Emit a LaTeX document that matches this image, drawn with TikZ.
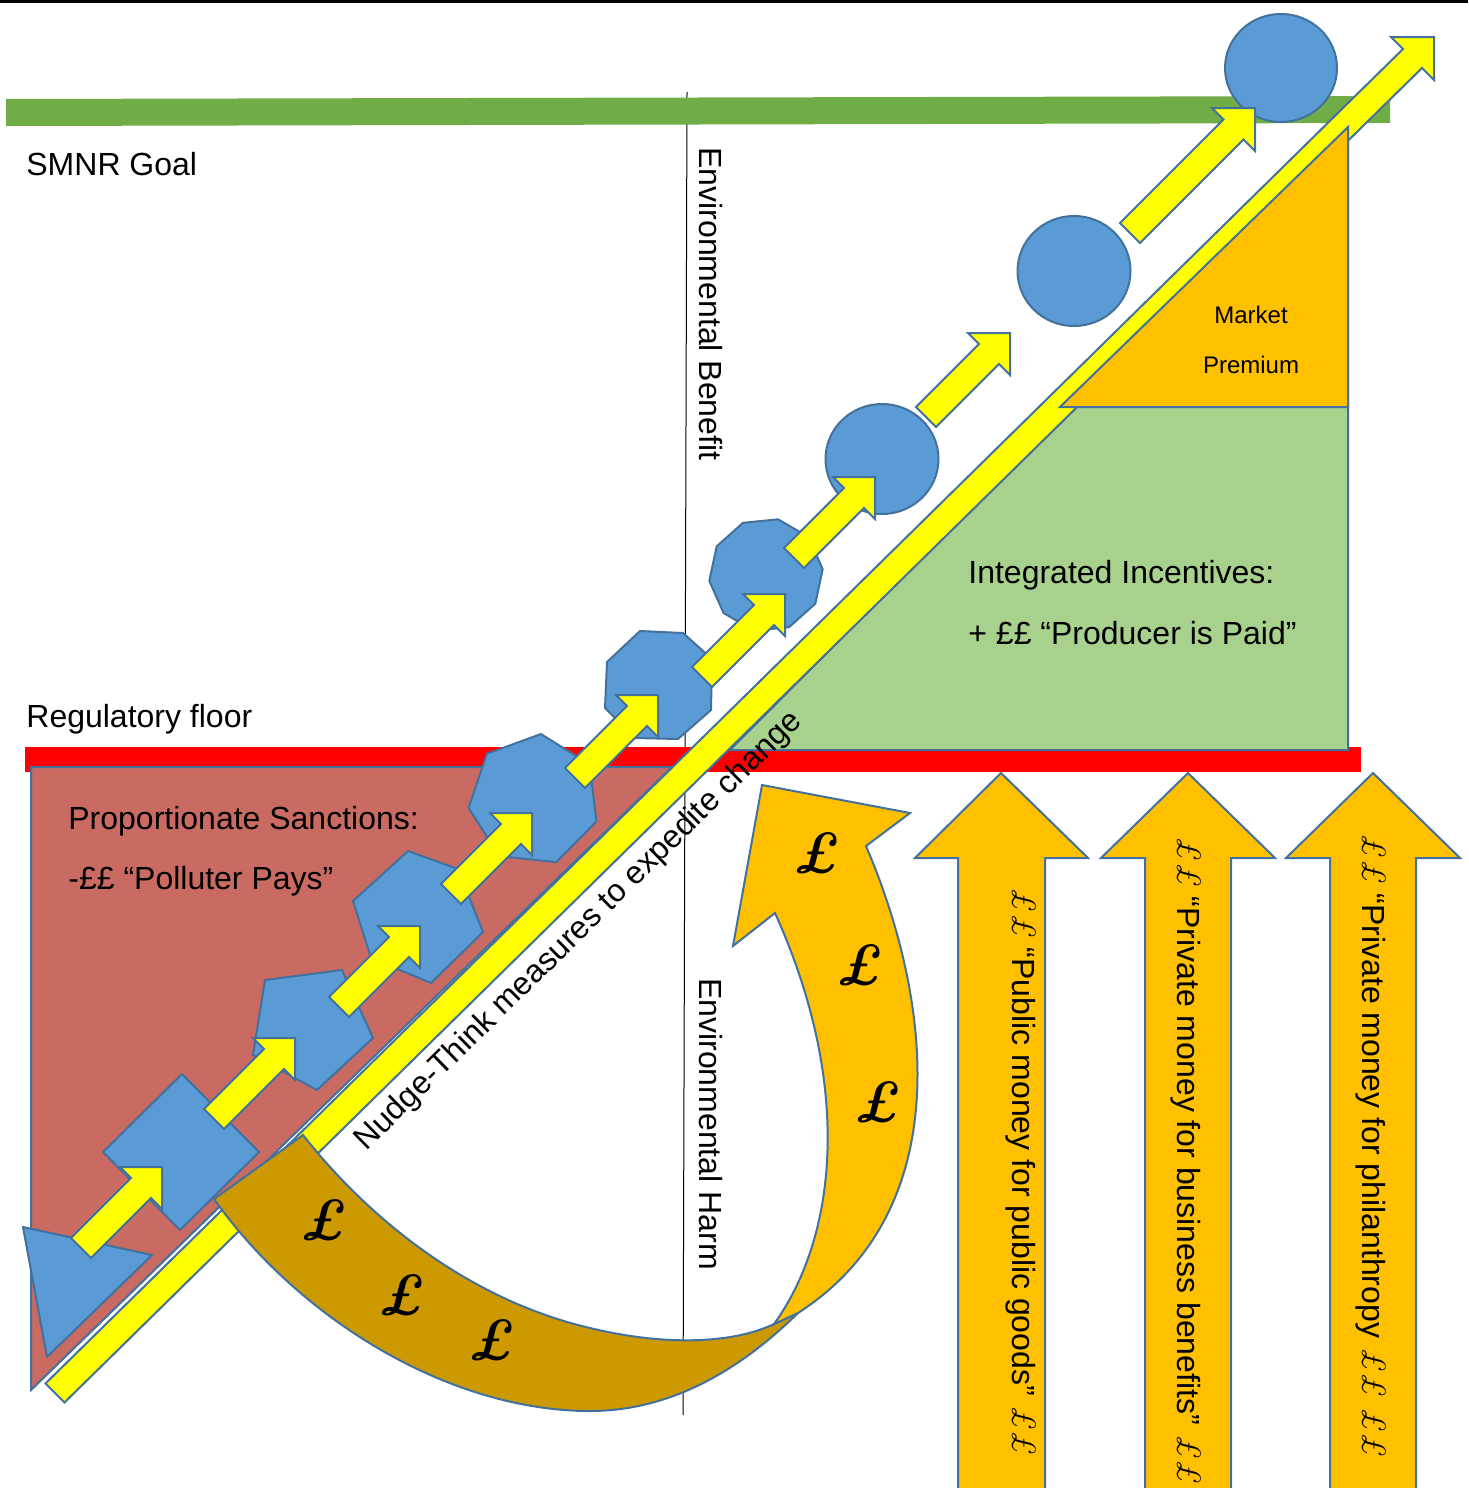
\documentclass[tikz,border=0pt]{standalone}
\usepackage{fontspec}
\setsansfont{Liberation Sans}
\renewcommand\familydefault{\sfdefault}
\definecolor{sbl}{HTML}{41719C}
\definecolor{bfill}{HTML}{5B9BD5}
\definecolor{gbar}{HTML}{70AD47}
\definecolor{gtri}{HTML}{A9D18E}
\definecolor{otri}{HTML}{FFC000}
\definecolor{ptri}{HTML}{C96B63}
\definecolor{brn}{HTML}{CC9900}
\definecolor{ylw}{HTML}{FFFF00}
\newcommand\pd{{\rmfamily\itshape\fontsize{17}{17}\selectfont £}}
\newcommand\bw{10}
\newcommand\blockarrow[5]{%
  \filldraw[yarr] ({#1-\bw},{#2-\bw}) -- ({#3-#5/2-\bw},{#4+#5/2-\bw}) -- ({#3-#5},{#4}) -- (#3,#4) -- (#3,{#4+#5}) -- ({#3-#5/2+\bw},{#4+#5/2+\bw}) -- ({#1+\bw},{#2+\bw}) -- cycle;}
\tikzset{
  lbl/.style={font=\fontsize{16}{19}\selectfont, inner sep=0pt},
  smalllbl/.style={font=\fontsize{12}{14}\selectfont, inner sep=0pt},
  pnd/.style={font=\fontsize{29}{30}\selectfont\rmfamily\bfseries\itshape, inner sep=0pt},
  shp/.style={fill=bfill, draw=sbl, line width=1pt, line join=round},
  yarr/.style={fill=ylw, draw=sbl, line width=1pt, line join=miter},
  tri/.style={draw=sbl, line width=1pt, line join=miter},
}
\begin{document}
\begin{tikzpicture}[x=0.5pt,y=-0.5pt]
\useasboundingbox (0,0) rectangle (1468,1488);
\clip (0,0) rectangle (1468,1488);
% top rule
\draw[line width=1.5pt] (0,1.5) -- (1468,1.5);
% axis line
\draw[line width=0.5pt] (687,92) -- (683,1415);
% goal bar
\fill[gbar] (6,99) -- (1390,96) -- (1390,123) -- (6,126) -- cycle;
% regulatory floor bar
\fill[red] (25,747) rectangle (1361,772);
% sanctions triangle
\filldraw[tri, fill=ptri] (31,767) -- (672,767) -- (31,1390) -- cycle;
% incentives triangle
\filldraw[tri, fill=gtri] (730,750) -- (1348,750) -- (1348,130) -- cycle;
% main arrow
\renewcommand\bw{9.5}
\blockarrow{55}{1393}{1434}{37}{43}
\renewcommand\bw{10}
% premium triangle
\filldraw[tri, fill=otri] (1060,407) -- (1348,407) -- (1348,127) -- cycle;
% step shapes
\filldraw[shp] (23,1227) -- (152,1255) -- (47,1357) -- cycle;
\filldraw[shp] (182,1074) -- (259,1152) -- (180,1230) -- (103,1152) -- cycle;
\filldraw[shp] (265,980) -- (342,970) -- (373,1038) -- (317,1090) -- (253,1055) -- cycle;
\filldraw[shp] (408,851) -- (458,869) -- (483,932) -- (431,983) -- (371,958) -- (353,901) -- cycle;
\filldraw[shp] (541,734) -- (589.6,764.4) -- (596.4,821.4) -- (556.2,862.1) -- (499.3,856.2) -- (468.5,807.9) -- (487,753.7) -- cycle;
\filldraw[shp] (640,631) -- (683,633) -- (712,659) -- (711,710) -- (678,739) -- (635,738) -- (605,708) -- (607,662) -- cycle;
\filldraw[shp] (778,519.3) -- (808.5,537) -- (822.7,569.2) -- (815.3,603.7) -- (789,627.2) -- (754,630.7) -- (723.5,613) -- (709.3,580.8) -- (716.7,546.3) -- (743,522.8) -- cycle;
\filldraw[shp] (882,459) ellipse [x radius=56.5, y radius=55];
\filldraw[shp] (1074,271) ellipse [x radius=56.5, y radius=55];
\filldraw[shp] (1281,68) ellipse [x radius=56, y radius=54];
% step arrows
\blockarrow{81}{1248}{162}{1167}{42}
\blockarrow{214}{1119}{295}{1038}{42}
\blockarrow{339}{1007}{420}{926}{42}
\blockarrow{451}{894}{532}{813}{42}
\blockarrow{575}{778}{658}{695}{42}
\blockarrow{702}{677}{785}{594}{42}
\blockarrow{794}{558}{875}{477}{42}
\blockarrow{926}{417}{1010}{333}{42}
\blockarrow{1130}{233}{1255}{108}{43}
% curved money arrow
\filldraw[tri, fill=brn] (214,1199) .. controls (300,1320) and (450,1411) .. (590,1411)
  .. controls (680,1411) and (750,1360) .. (798,1313) -- (774,1324)
  .. controls (730,1345) and (660,1345) .. (590,1328)
  .. controls (470,1300) and (370,1220) .. (303,1135) -- cycle;
\filldraw[tri, fill=otri] (774,1324) .. controls (835,1240) and (855,1090) .. (775,913)
  -- (733,946) -- (762,785) -- (910,813) -- (866,846)
  .. controls (932,1000) and (958,1210) .. (798,1313) -- cycle;
% vertical money arrows
\filldraw[tri, fill=otri] (958,1500) -- (958,858) -- (915,858) -- (1001,773) -- (1088,858) -- (1045,858) -- (1045,1500) -- cycle;
\filldraw[tri, fill=otri] (1145,1500) -- (1145,858) -- (1101,858) -- (1188,773) -- (1275,858) -- (1231,858) -- (1231,1500) -- cycle;
\filldraw[tri, fill=otri] (1330,1500) -- (1330,858) -- (1286,858) -- (1373,773) -- (1460,858) -- (1416,858) -- (1416,1500) -- cycle;
% texts
\node[lbl, anchor=base west] (smnr) at (26,175) {SMNR Goal};
\node[lbl, anchor=base west] (reg) at (26,727) {Regulatory floor};
\node[lbl, anchor=base west] (ps1) at (68,829) {Proportionate Sanctions:};
\node[lbl, anchor=base west] (ps2) at (68,889) {-££ “Polluter Pays”};
\node[lbl, anchor=base west] (ii1) at (968,583) {Integrated Incentives:};
\node[lbl, anchor=base west] (ii2) at (968,644) {+ ££ “Producer is Paid”};
\node[smalllbl, anchor=base] (mk1) at (1251,323) {Market};
\node[smalllbl, anchor=base] (mk2) at (1251,373) {Premium};
\node[lbl, rotate=-90] (eb) at (711,304) {Environmental Benefit};
\node[lbl, rotate=-90] (eh) at (711,1124) {Environmental Harm};
\node[lbl, rotate=44.5, anchor=base] (nudge) at (585,937) {Nudge-Think measures to expedite change};
\node[lbl, rotate=-90] (t1) at (1021,1172) {\pd\pd{} “Public money for public goods” \pd\pd};
\node[lbl, rotate=-90] (t2) at (1186,1161) {\pd\pd{} “Private money for business benefits” \pd\pd};
\node[lbl, rotate=-90] (t3) at (1371,1146) {\pd\pd{} “Private money for philanthropy \pd\pd{} \pd\pd};
\node[pnd] (p1) at (817,853) {£};
\node[pnd] (p2) at (860,965) {£};
\node[pnd] (p3) at (878,1102) {£};
\node[pnd] (p4) at (324,1220) {£};
\node[pnd] (p5) at (402,1295) {£};
\node[pnd] (p6) at (492,1340) {£};
\end{tikzpicture}
\end{document}
